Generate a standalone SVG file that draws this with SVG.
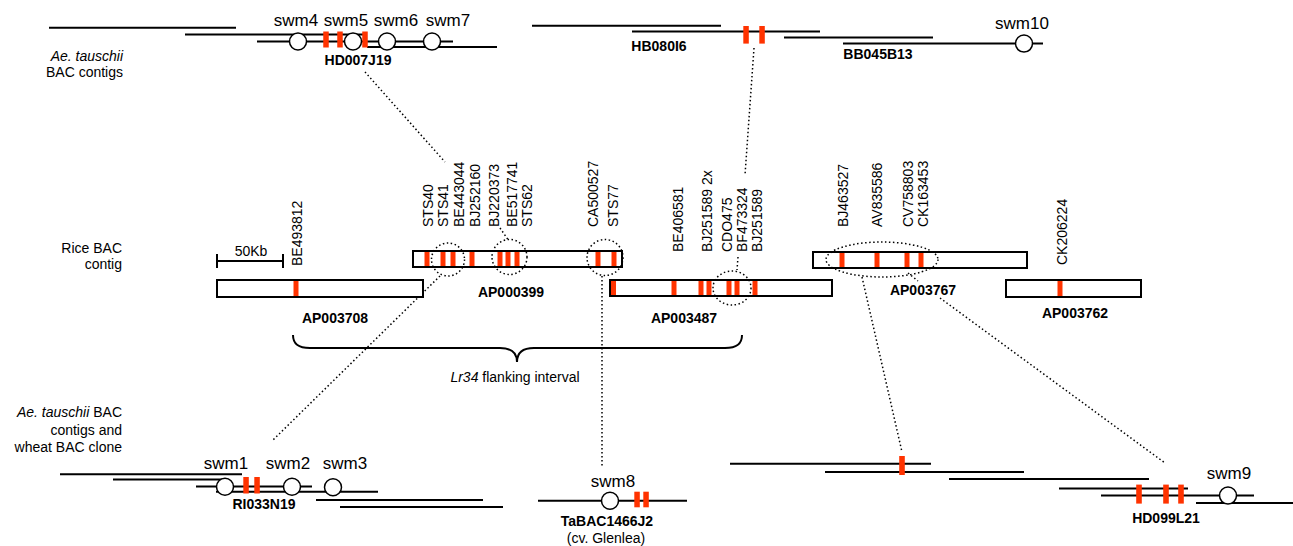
<svg xmlns="http://www.w3.org/2000/svg" width="1293" height="546" viewBox="0 0 1293 546">
<style>
text{font-family:"Liberation Sans",Arial,sans-serif;fill:#000}
.sw{font-size:17px;text-anchor:middle}
.bn{font-size:14px;font-weight:bold;text-anchor:middle}
.lb{font-size:14px}
.rl{font-size:14px}
.sd{font-size:14px;text-anchor:end}
.ln{stroke:#000;stroke-width:2;fill:none}
.bar{fill:#ff3300}
.mk{fill:#fff;stroke:#000;stroke-width:1.5}
.rc{fill:#fff;stroke:#000;stroke-width:2}
.dt{stroke:#000;stroke-width:1.5;fill:none;stroke-dasharray:1.5 2.5}
</style>
<defs>
<rect id="b" class="bar" x="-2.75" y="0" width="5.5" height="16"/>
</defs>

<g id="side-labels">
<text class="sd" x="123" y="61"><tspan font-style="italic">Ae. tauschii</tspan></text>
<text class="sd" x="123" y="77">BAC contigs</text>
<text class="sd" x="122" y="253">Rice BAC</text>
<text class="sd" x="122" y="269">contig</text>
<text class="sd" x="122" y="417"><tspan font-style="italic">Ae. tauschii</tspan> BAC</text>
<text class="sd" x="122" y="435">contigs and</text>
<text class="sd" x="122" y="452">wheat BAC clone</text>
</g>

<g id="connectors">
<line class="dt" x1="365" y1="72" x2="445" y2="162"/>
<line class="dt" x1="500" y1="228" x2="509" y2="241"/>
<line class="dt" x1="754" y1="48" x2="745" y2="175"/>
<line class="dt" x1="738" y1="257" x2="737" y2="270"/>
<line class="dt" x1="440" y1="276" x2="273" y2="440"/>
<line class="dt" x1="602" y1="276" x2="602" y2="466"/>
<line class="dt" x1="862" y1="277" x2="902" y2="452"/>
<line class="dt" x1="908" y1="273" x2="918" y2="281"/>
<line class="dt" x1="940" y1="298" x2="1165" y2="463"/>
</g>

<g id="top-left-contig">
<line class="ln" x1="49" y1="27.7" x2="236" y2="27.7"/>
<line class="ln" x1="185" y1="34.5" x2="365" y2="34.5"/>
<line class="ln" x1="257" y1="41.5" x2="453" y2="41.5"/>
<line class="ln" x1="367" y1="47" x2="497" y2="47"/>
<use href="#b" x="326" y="31.5"/>
<use href="#b" x="340" y="31.5"/>
<use href="#b" x="365" y="31.5"/>
<circle class="mk" cx="298" cy="41.5" r="8.5"/>
<circle class="mk" cx="353" cy="41.5" r="8.5"/>
<circle class="mk" cx="387" cy="41.5" r="8.5"/>
<circle class="mk" cx="432" cy="41.5" r="8.5"/>
<text class="sw" x="296" y="26">swm4</text>
<text class="sw" x="346" y="26">swm5</text>
<text class="sw" x="396" y="26">swm6</text>
<text class="sw" x="448" y="26">swm7</text>
<text class="bn" x="358" y="65">HD007J19</text>
</g>

<g id="top-right-contig">
<line class="ln" x1="532" y1="25.7" x2="721" y2="25.7"/>
<line class="ln" x1="632" y1="31.4" x2="820" y2="31.4"/>
<line class="ln" x1="784" y1="37.5" x2="933" y2="37.5"/>
<line class="ln" x1="843" y1="43.6" x2="1043" y2="43.6"/>
<rect class="bar" x="743.3" y="26" width="5.5" height="17.6"/>
<rect class="bar" x="759.3" y="26" width="5.5" height="17.6"/>
<circle class="mk" cx="1024" cy="43.6" r="8.5"/>
<text class="sw" x="1022" y="29">swm10</text>
<text class="bn" x="659" y="51">HB080I6</text>
<text class="bn" x="878" y="59">BB045B13</text>
</g>

<g id="scale-bar">
<line class="ln" x1="217" y1="261" x2="283" y2="261" stroke-width="1.5"/>
<line class="ln" x1="217" y1="254" x2="217" y2="268" stroke-width="1.5"/>
<line class="ln" x1="283" y1="254" x2="283" y2="268" stroke-width="1.5"/>
<text class="lb" x="251" y="256" text-anchor="middle">50Kb</text>
</g>

<g id="AP003708">
<rect class="rc" x="217" y="280" width="206" height="17"/>
<rect class="bar" x="293.5" y="281" width="5" height="15"/>
<text class="rl" transform="translate(302,266) rotate(-90)">BE493812</text>
<text class="bn" x="335" y="323">AP003708</text>
</g>

<g id="AP000399">
<rect class="rc" x="413" y="251" width="209" height="16"/>
<rect class="bar" x="424.5" y="252" width="5" height="14"/>
<rect class="bar" x="440.5" y="252" width="5" height="14"/>
<rect class="bar" x="450.5" y="252" width="5" height="14"/>
<rect class="bar" x="469.5" y="252" width="5" height="14"/>
<rect class="bar" x="497.5" y="252" width="5" height="14"/>
<rect class="bar" x="505.5" y="252" width="5" height="14"/>
<rect class="bar" x="514.5" y="252" width="5" height="14"/>
<rect class="bar" x="595.5" y="252" width="5" height="14"/>
<rect class="bar" x="611.5" y="252" width="5" height="14"/>
<circle class="dt" cx="448" cy="259.5" r="16.5"/>
<circle class="dt" cx="509.5" cy="257" r="17.5"/>
<circle class="dt" cx="605" cy="257.5" r="18"/>
<text class="rl" transform="translate(433,227) rotate(-90)">STS40</text>
<text class="rl" transform="translate(448,227) rotate(-90)">STS41</text>
<text class="rl" transform="translate(463.5,227) rotate(-90)">BE443044</text>
<text class="rl" transform="translate(480,227) rotate(-90)">BJ252160</text>
<text class="rl" transform="translate(499,227) rotate(-90)">BJ220373</text>
<text class="rl" transform="translate(516.5,227) rotate(-90)">BE517741</text>
<text class="rl" transform="translate(532,227) rotate(-90)">STS62</text>
<text class="rl" transform="translate(598,227) rotate(-90)">CA500527</text>
<text class="rl" transform="translate(618,227) rotate(-90)">STS77</text>
<text class="bn" x="511" y="297">AP000399</text>
</g>

<g id="AP003487">
<rect class="rc" x="610" y="280" width="222" height="16"/>
<rect class="bar" x="611" y="281" width="5" height="14"/>
<rect class="bar" x="671.5" y="281" width="5" height="14"/>
<rect class="bar" x="698.5" y="281" width="5" height="14"/>
<rect class="bar" x="706.5" y="281" width="5" height="14"/>
<rect class="bar" x="726.5" y="281" width="5" height="14"/>
<rect class="bar" x="734.5" y="281" width="5" height="14"/>
<rect class="bar" x="752.5" y="281" width="5" height="14"/>
<ellipse class="dt" cx="732" cy="288" rx="19" ry="17"/>
<text class="rl" transform="translate(683,252) rotate(-90)">BE406581</text>
<text class="rl" transform="translate(712,252) rotate(-90)">BJ251589 2x</text>
<text class="rl" transform="translate(732,252) rotate(-90)">CDO475</text>
<text class="rl" transform="translate(747,252) rotate(-90)">BF473324</text>
<text class="rl" transform="translate(762,252) rotate(-90)">BJ251589</text>
<text class="bn" x="684" y="323">AP003487</text>
</g>

<g id="AP003767">
<rect class="rc" x="813" y="252" width="214" height="16"/>
<rect class="bar" x="839.5" y="253" width="5" height="14"/>
<rect class="bar" x="874.5" y="253" width="5" height="14"/>
<rect class="bar" x="904.5" y="253" width="5" height="14"/>
<rect class="bar" x="918.5" y="253" width="5" height="14"/>
<ellipse class="dt" cx="882" cy="259.5" rx="56" ry="17.5"/>
<text class="rl" transform="translate(848,227) rotate(-90)">BJ463527</text>
<text class="rl" transform="translate(882,227) rotate(-90)">AV835586</text>
<text class="rl" transform="translate(913,227) rotate(-90)">CV758803</text>
<text class="rl" transform="translate(928,227) rotate(-90)">CK163453</text>
<text class="bn" x="923" y="295">AP003767</text>
</g>

<g id="AP003762">
<rect class="rc" x="1006" y="280" width="135" height="17"/>
<rect class="bar" x="1057.5" y="281" width="5" height="15"/>
<text class="rl" transform="translate(1067,265) rotate(-90)">CK206224</text>
<text class="bn" x="1075" y="318">AP003762</text>
</g>

<g id="interval">
<path class="ln" stroke-width="1.5" d="M293,335 C293,344 298,348 310,348 L500,348 C510,348 517,352 517,362 C517,352 524,348 534,348 L725,348 C737,348 742,344 742,335"/>
<text class="lb" x="515" y="382" text-anchor="middle"><tspan font-style="italic">Lr34</tspan> flanking interval</text>
</g>

<g id="bottom-left-contig">
<line class="ln" x1="60" y1="474.3" x2="242" y2="474.3"/>
<line class="ln" x1="113" y1="479.5" x2="225" y2="479.5"/>
<line class="ln" x1="196" y1="486.5" x2="312" y2="486.5"/>
<line class="ln" x1="216" y1="491.7" x2="378" y2="491.7"/>
<line class="ln" x1="316" y1="500" x2="483" y2="500"/>
<line class="ln" x1="340" y1="507" x2="503" y2="507"/>
<rect class="bar" x="243.3" y="477" width="5.5" height="16.5"/>
<rect class="bar" x="254.3" y="477" width="5.5" height="16.5"/>
<circle class="mk" cx="225" cy="486.7" r="8.5"/>
<circle class="mk" cx="292" cy="486.7" r="8.5"/>
<circle class="mk" cx="333" cy="487.3" r="8.5"/>
<text class="sw" x="226" y="469">swm1</text>
<text class="sw" x="288" y="469">swm2</text>
<text class="sw" x="345" y="469">swm3</text>
<text class="bn" x="264" y="509">RI033N19</text>
</g>

<g id="TaBAC1466J2">
<line class="ln" x1="538" y1="500.7" x2="687" y2="500.7"/>
<rect class="bar" x="634.3" y="491.7" width="5.5" height="15.6"/>
<rect class="bar" x="643.3" y="491.7" width="5.5" height="15.6"/>
<circle class="mk" cx="610" cy="500.7" r="8.5"/>
<text class="sw" x="613" y="486.7">swm8</text>
<text class="bn" x="607" y="526">TaBAC1466J2</text>
<text class="lb" x="606" y="542.5" text-anchor="middle">(cv. Glenlea)</text>
</g>

<g id="bottom-right-contig">
<line class="ln" x1="730" y1="463.8" x2="931" y2="463.8"/>
<line class="ln" x1="825" y1="472" x2="1024" y2="472"/>
<line class="ln" x1="949" y1="479" x2="1149" y2="479"/>
<line class="ln" x1="1059" y1="488.4" x2="1188" y2="488.4"/>
<line class="ln" x1="1101" y1="495.6" x2="1254" y2="495.6"/>
<line class="ln" x1="1196" y1="503" x2="1293" y2="503"/>
<rect class="bar" x="899.2" y="456" width="5.6" height="19"/>
<rect class="bar" x="1136.2" y="484.6" width="5.6" height="19"/>
<rect class="bar" x="1163.2" y="484.6" width="5.6" height="19"/>
<rect class="bar" x="1178.2" y="484.6" width="5.6" height="19"/>
<circle class="mk" cx="1228" cy="495.6" r="8.5"/>
<text class="sw" x="1229" y="479">swm9</text>
<text class="bn" x="1166" y="523">HD099L21</text>
</g>
</svg>
